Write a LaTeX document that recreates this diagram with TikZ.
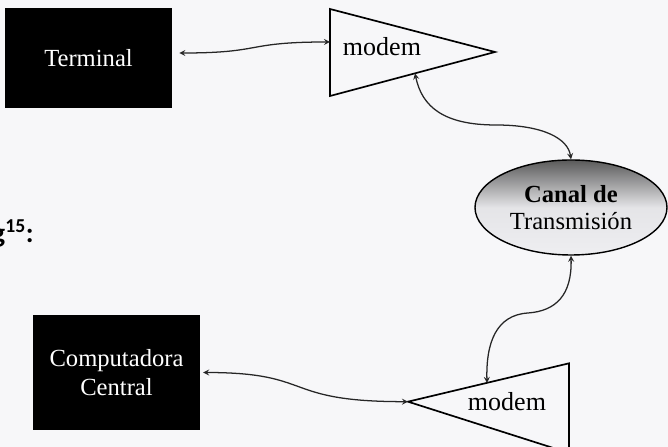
\documentclass[tikz,border=0pt]{standalone}
\usepackage{fontspec}
\setmainfont{Liberation Serif}
\newfontfamily\notafont{Carlito}
\usepackage{tikz}
\usetikzlibrary{shapes.geometric}

\definecolor{papel}{RGB}{247,247,249}
\definecolor{canalarriba}{RGB}{90,90,90}
\definecolor{canalabajo}{RGB}{238,238,241}

\begin{document}
\begin{tikzpicture}[>=stealth,
    caja/.style={fill=black, text=white, align=center, inner sep=0pt,
        font=\fontsize{17.5}{21}\selectfont},
    enlace/.style={<->, line width=0.9pt, black!85},
    modem/.style={draw, line width=1.2pt, fill=papel},
    texto/.style={font=\fontsize{18.5}{21}\selectfont}]

    \fill [papel] (0,0) rectangle (16.7, 11.175);
    \useasboundingbox (0,0) rectangle (16.7, 11.175);

    % texto cortado del borde de la pagina
    \node [anchor=base east, font=\notafont\bfseries\fontsize{20}{22}\selectfont, inner sep=0pt] (nota) at (0.85, 5.1) {g\textsuperscript{15}:};

    \node [caja, minimum width=4.175cm, minimum height=2.5cm] (term) at (2.2125, 9.725) {Terminal};
    \node [caja, minimum width=4.175cm, minimum height=2.875cm] (comp) at (2.9125, 1.8625) {Computadora\\Central};

    % modem de arriba
    \coordinate (tmA) at (8.25, 10.95);
    \coordinate (tmB) at (12.375, 9.875);
    \coordinate (tmC) at (8.25, 8.775);
    \draw [modem] (tmA) -- (tmB) -- (tmC) -- cycle;
    \node [texto] (tmText) at (9.55, 10.0) {modem};
    \coordinate (tmIn) at (8.25, 10.125);
    \coordinate (tmOut) at (10.375, 9.34);

    % modem de abajo
    \coordinate (bmA) at (10.2, 1.133);
    \coordinate (bmB) at (14.225, 2.092);
    \coordinate (bmC) at (14.225, -0.15);
    \draw [modem] (bmA) -- (bmB) -- (bmC) -- cycle;
    \node [texto] (bmText) at (12.675, 1.125) {modem};
    \coordinate (bmIn) at (12.175, 1.6);

    \node [ellipse, draw, line width=1pt, minimum width=4.8cm, minimum height=2.375cm, inner sep=0pt,
        top color=canalarriba, bottom color=canalabajo, middle color=canalabajo!96!black,
        align=center, font=\fontsize{17.5}{19}\selectfont] (canal) at (14.275, 5.9875) {\textbf{Canal de}\\Transmisión};

    \draw [enlace, shorten <=5pt] ([yshift=0.125cm]term.east) .. controls (6.6, 9.85) and (6.1, 10.125) .. (tmIn);
    \draw [enlace] (tmOut) .. controls (10.55, 8.5) and (11.1, 8.05) .. (12.4, 8.05)
        .. controls (13.6, 8.05) and (14.2, 7.7) .. (canal.north);
    \draw [enlace] (canal.south) .. controls (14.3, 3.8) and (13.9, 3.4) .. (13.2, 3.35)
        .. controls (12.4, 3.3) and (12.15, 2.6) .. (bmIn);
    \draw [enlace, shorten <=2pt] (comp.east) .. controls (7.9, 1.86) and (7.0, 1.133) .. (bmA);

\end{tikzpicture}
\end{document}
